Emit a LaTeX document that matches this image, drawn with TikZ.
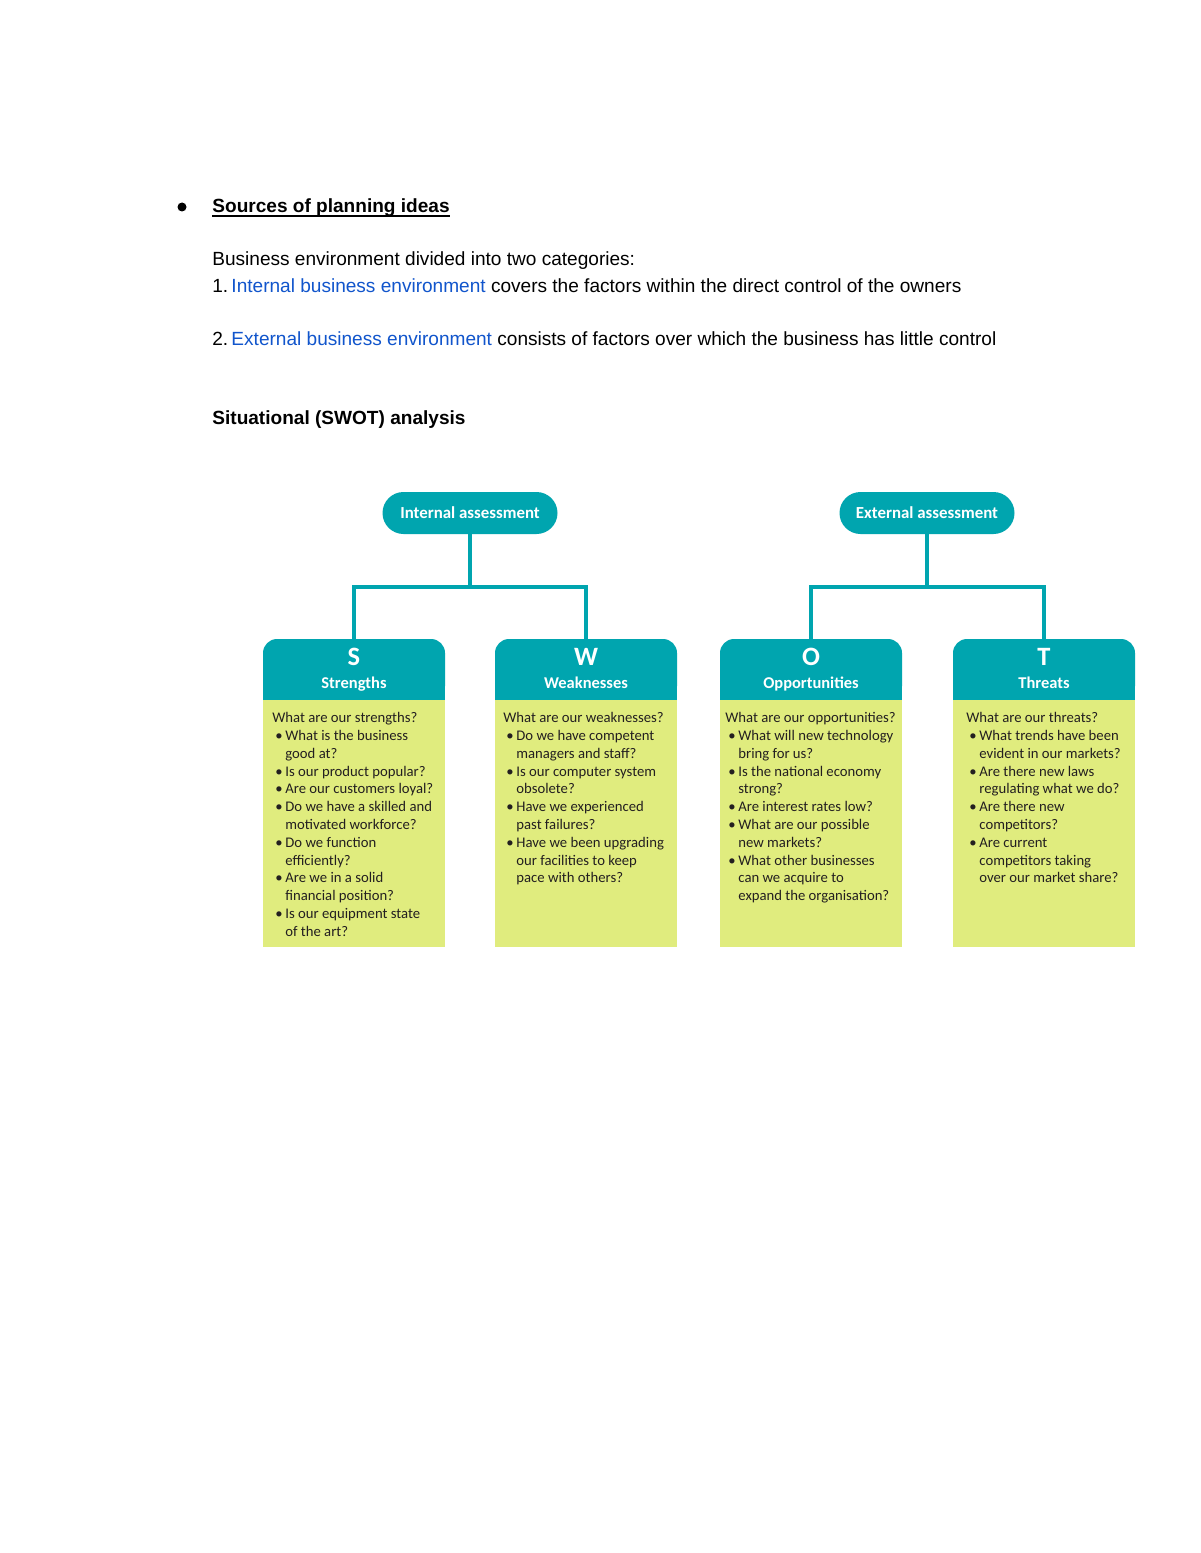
\documentclass[tikz,border=0pt]{standalone}
\usepackage{fontspec}
\setmainfont{Liberation Sans}
\newfontfamily\swotfont{Carlito}
\definecolor{swotteal}{HTML}{00A5AF}
\definecolor{swotlime}{HTML}{E0EC7E}
\definecolor{swotink}{HTML}{231F20}
\definecolor{linkblue}{HTML}{1155CC}
\newdimen\pxunit \pxunit=0.51pt
\newcommand{\qb}{\makebox[13\pxunit][l]{\hspace{3\pxunit}\textbullet}}
\newcommand{\qc}{\hspace*{13\pxunit}}
\tikzset{
  doctext/.style={anchor=base west, inner sep=0pt, font=\fontsize{9.72pt}{12pt}\selectfont},
  pill/.style={fill=swotteal, text=white, rounded corners=21\pxunit, minimum width=175\pxunit,
    minimum height=42\pxunit, inner sep=0pt, font=\swotfont\bfseries\fontsize{8.6pt}{10pt}\selectfont},
  headbox/.style={fill=swotteal, rounded corners=14\pxunit, minimum width=182\pxunit,
    minimum height=61\pxunit, inner sep=0pt},
  letter/.style={anchor=base, inner sep=0pt, text=white, font=\swotfont\bfseries\fontsize{13.5pt}{14pt}\selectfont},
  catname/.style={anchor=base, inner sep=0pt, text=white, font=\swotfont\bfseries\fontsize{8.4pt}{10pt}\selectfont},
  qtext/.style={anchor=north west, inner sep=0pt, align=left, text=swotink,
    font=\swotfont\fontsize{7.5pt}{9.08pt}\selectfont},
  link/.style={draw=swotteal, line width=1.7pt},
}
\begin{document}
\begin{tikzpicture}[x=0.51pt, y=-0.51pt]
\useasboundingbox[fill=white] (0,0) rectangle (1200,1553);

% page text
\fill (182,207) circle[radius=4.5];
\node[doctext, font=\bfseries\fontsize{9.72pt}{12pt}\selectfont] (srcHead) at (212,213) {Sources of planning ideas};
\draw[line width=0.6pt] ([yshift=-1.5pt]srcHead.base west) -- ([yshift=-1.5pt]srcHead.base east);
\node[doctext] (envLine) at (212,266) {Business environment divided into two categories:};
\node[doctext] (intLine) at (212,292) {1.\,\textcolor{linkblue}{Internal business environment} covers the factors within the direct control of the owners};
\node[doctext] (extLine) at (212,345) {2.\,\textcolor{linkblue}{External business environment} consists of factors over which the business has little control};
\node[doctext, font=\bfseries\fontsize{9.72pt}{12pt}\selectfont] (swotTitle) at (212,424) {Situational (SWOT) analysis};

% assessments
\node[pill] (intAssess) at (470,513) {Internal assessment};
\node[pill] (extAssess) at (927,513) {External assessment};

% category headers
\foreach \cat/\cx in {s/354, w/586, o/811, t/1044} {
  \node[headbox] (\cat Head) at (\cx,669.5) {};
  \fill[swotteal] (\cat Head.west) rectangle (\cat Head.south east);
  \fill[swotlime] (\cat Head.south west) rectangle ++(182,247);
}
\node[letter] (sLetter) at (354,665) {S};
\node[catname] (sName) at (354,688) {Strengths};
\node[letter] (wLetter) at (586,665) {W};
\node[catname] (wName) at (586,688) {Weaknesses};
\node[letter] (oLetter) at (811,665) {O};
\node[catname] (oName) at (811,688) {Opportunities};
\node[letter] (tLetter) at (1044,665) {T};
\node[catname] (tName) at (1044,688) {Threats};

% connectors
\coordinate (intFork) at (470,587);
\coordinate (extFork) at (927,587);
\draw[link] (intAssess.south) -- (intFork) -| (sHead.north);
\draw[link] (intFork) -| (wHead.north);
\draw[link] (extAssess.south) -- (extFork) -| (oHead.north);
\draw[link] (extFork) -| (tHead.north);

% questions
\node[qtext] (sText) at (272,712) {What are our strengths?\\
\qb What is the business\\ \qc good at?\\
\qb Is our product popular?\\
\qb Are our customers loyal?\\
\qb Do we have a skilled and\\ \qc motivated workforce?\\
\qb Do we function\\ \qc efficiently?\\
\qb Are we in a solid\\ \qc financial position?\\
\qb Is our equipment state\\ \qc of the art?};
\node[qtext] (wText) at (503,712) {What are our weaknesses?\\
\qb Do we have competent\\ \qc managers and staff?\\
\qb Is our computer system\\ \qc obsolete?\\
\qb Have we experienced\\ \qc past failures?\\
\qb Have we been upgrading\\ \qc our facilities to keep\\ \qc pace with others?};
\node[qtext] (oText) at (725,712) {What are our opportunities?\\
\qb What will new technology\\ \qc bring for us?\\
\qb Is the national economy\\ \qc strong?\\
\qb Are interest rates low?\\
\qb What are our possible\\ \qc new markets?\\
\qb What other businesses\\ \qc can we acquire to\\ \qc expand the organisation?};
\node[qtext] (tText) at (966,712) {What are our threats?\\
\qb What trends have been\\ \qc evident in our markets?\\
\qb Are there new laws\\ \qc regulating what we do?\\
\qb Are there new\\ \qc competitors?\\
\qb Are current\\ \qc competitors taking\\ \qc over our market share?};
\end{tikzpicture}
\end{document}
